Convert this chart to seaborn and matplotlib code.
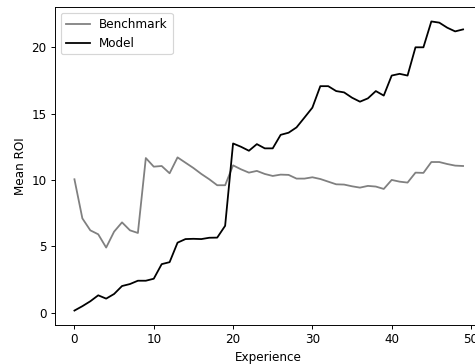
import numpy as np
import pandas as pd
import matplotlib
matplotlib.use("Agg")
import matplotlib.pyplot as plt
import seaborn as sns

# values
experience = list(range(50))
benchmark = [10.05, 7.1, 6.2, 5.9, 4.9, 6.1, 6.8, 6.2, 6.0, 11.65,
             11.0, 11.05, 10.5, 11.7, 11.3, 10.9, 10.45, 10.05, 9.6, 9.6,
             11.1, 10.8, 10.55, 10.68, 10.45, 10.3, 10.4, 10.38, 10.1, 10.1,
             10.2, 10.07, 9.87, 9.67, 9.65, 9.52, 9.42, 9.55, 9.5, 9.32,
             10.0, 9.87, 9.8, 10.55, 10.53, 11.35, 11.35, 11.2, 11.08, 11.05]
model = [0.15, 0.48, 0.85, 1.3, 1.05, 1.4, 2.0, 2.15, 2.4, 2.4,
         2.55, 3.65, 3.8, 5.27, 5.54, 5.56, 5.54, 5.64, 5.65, 6.54,
         12.75, 12.5, 12.2, 12.7, 12.38, 12.38, 13.4, 13.56, 13.96, 14.7,
         15.45, 17.07, 17.07, 16.7, 16.6, 16.2, 15.9, 16.15, 16.7, 16.36,
         17.87, 18.0, 17.87, 20.0, 20.0, 21.95, 21.86, 21.48, 21.2, 21.35]

df = pd.DataFrame({"Experience": experience, "Benchmark": benchmark, "Model": model})

fig = plt.figure(figsize=(475 / 86, 364 / 86), dpi=86)
ax = fig.add_axes([0.1158, 0.1071, 0.9, 0.8737])

sns.lineplot(data=df, x="Experience", y="Benchmark", color="gray", label="Benchmark", ax=ax)
sns.lineplot(data=df, x="Experience", y="Model", color="black", label="Model", ax=ax)

ax.set_xlabel("Experience")
ax.set_ylabel("Mean ROI")
ax.legend(loc="upper left")

fig.savefig("out.png", dpi=86)
